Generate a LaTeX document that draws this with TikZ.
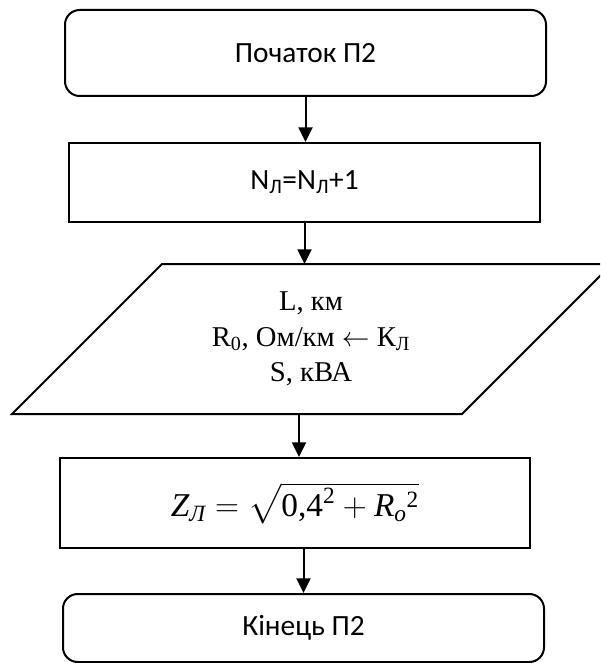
\documentclass[tikz,border=0pt]{standalone}
\usepackage{amsmath}
\usepackage{fontspec}
\setmainfont{Carlito}
\newfontfamily\timesfont{Liberation Serif}
\usetikzlibrary{shapes,arrows.meta,positioning,calc}

\begin{document}
\begin{tikzpicture}[x=0.75pt, y=-0.75pt, line width=1.5pt,
    termbox/.style={draw, rounded corners=11pt, minimum width=360.75pt, font=\fontsize{22}{26}\selectfont},
    procbox/.style={draw, font=\fontsize{22}{26}\selectfont},
    flow/.style={-{Triangle[width=10.5pt,length=11pt]}}]
    \useasboundingbox (0,0) rectangle (600,663);
    \clip (0,0) rectangle (600,663);

    % Start and counter
    \node[termbox, minimum height=64.5pt] (start) at (305.5,53) {Початок П2};
    \node[procbox, minimum width=353.25pt, minimum height=59.25pt] (incr) at (304.5,182.5) {N\textsubscript{Л}=N\textsubscript{Л}+1};

    % Data input
    \node[minimum width=337.5pt, minimum height=112.5pt, inner sep=0pt, outer sep=0pt, align=center,
          font=\timesfont\fontsize{21.5}{26.5}\selectfont] (io) at (311,339)
          {L, км\\R\textsubscript{0}, Ом/км $\leftarrow$ К\textsubscript{Л}\\S, кВА};
    \draw ($(io.north west)+(76,0)$) -- ($(io.north east)+(76,0)$)
       -- ($(io.south east)+(-74,0)$) -- ($(io.south west)+(-74,0)$) -- cycle;

    % Line impedance
    \node[procbox, minimum width=352.5pt, minimum height=67.5pt, font=\fontsize{25}{30}\selectfont] (zform) at (295,503)
          {$\text{\timesfont\itshape Z}_{\text{\timesfont\itshape Л}} = \sqrt{\text{\timesfont 0,4}^{\text{\timesfont 2}} + \text{\timesfont\itshape R}_{\text{\timesfont\itshape o}}{}^{\text{\timesfont 2}}}$};

    % End
    \node[termbox, minimum height=51pt] (stop) at (303.5,628) {Кінець П2};

    % Flow
    \draw[flow] (start.south) -- (start.south |- incr.north);
    \draw[flow] (incr.south) -- (incr.south |- io.north);
    \draw[flow] ([xshift=-9pt]io.south) -- ([xshift=3pt]zform.north);
    \draw[flow] (zform.south -| stop.north) -- (stop.north);
\end{tikzpicture}
\end{document}
